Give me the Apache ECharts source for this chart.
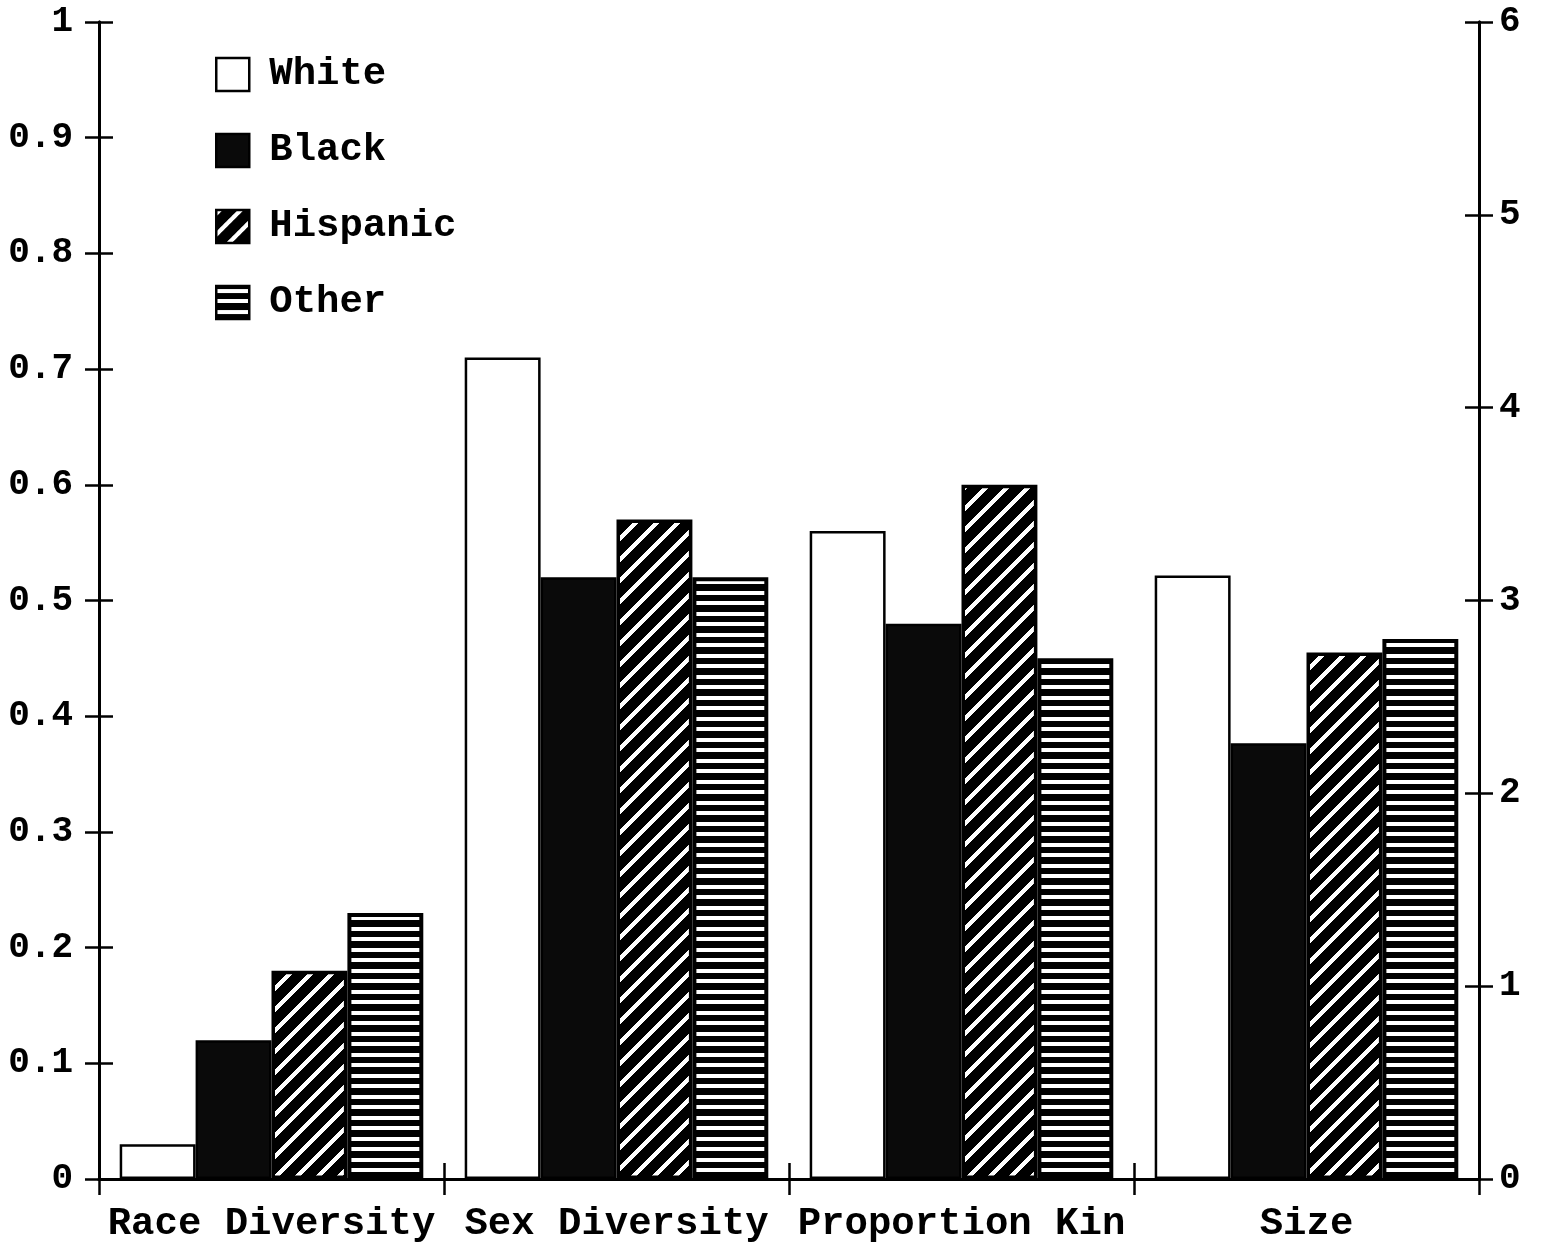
<!DOCTYPE html>
<html><head><meta charset="utf-8">
<script src="https://cdn.jsdelivr.net/npm/echarts@6/dist/echarts.min.js"></script>
<style>html,body{margin:0;padding:0;background:#fff}#c{width:1541px;height:1245px}</style>
</head><body><div id="c"></div>
<script>
const categories = ['Race Diversity', 'Sex Diversity', 'Proportion Kin', 'Size'];
const groups = ['White', 'Black', 'Hispanic', 'Other'];
// Left axis (0-1): Race Diversity, Sex Diversity, Proportion Kin
const whiteLeft = [0.03, 0.71, 0.56];
const blackLeft = [0.12, 0.52, 0.48];
const hispanicLeft = [0.18, 0.57, 0.60];
const otherLeft = [0.23, 0.52, 0.45];
// Right axis (0-6): Size
const whiteSize = 3.13;
const blackSize = 2.26;
const hispanicSize = 2.73;
const otherSize = 2.80;

const FONT = '"Liberation Mono", "DejaVu Sans Mono", monospace';

function diagPattern() {
  const s = 21, w = 6;
  const c = document.createElement('canvas');
  c.width = s; c.height = s;
  const ctx = c.getContext('2d');
  const img = ctx.createImageData(s, s);
  for (let y = 0; y < s; y++) {
    for (let x = 0; x < s; x++) {
      const white = ((x + y) % s) < w;
      const i = (y * s + x) * 4;
      const v = white ? 255 : 0;
      img.data[i] = v; img.data[i + 1] = v; img.data[i + 2] = v; img.data[i + 3] = 255;
    }
  }
  ctx.putImageData(img, 0, 0);
  return { image: c, repeat: 'repeat' };
}
function horizPattern() {
  const c = document.createElement('canvas');
  c.width = 8; c.height = 21;
  const ctx = c.getContext('2d');
  ctx.fillStyle = '#000'; ctx.fillRect(0, 0, 8, 21);
  ctx.fillStyle = '#fff';
  ctx.fillRect(0, 3, 8, 4);
  ctx.fillRect(0, 13, 8, 4);
  return { image: c, repeat: 'repeat' };
}

const fills = {
  White: '#ffffff',
  Black: '#0a0a0a',
  Hispanic: diagPattern(),
  Other: horizPattern()
};
const borders = { White: 2.5, Black: 2.5, Hispanic: 3.5, Other: 4 };
const leftData = { White: whiteLeft, Black: blackLeft, Hispanic: hispanicLeft, Other: otherLeft };
const sizeData = { White: whiteSize, Black: blackSize, Hispanic: hispanicSize, Other: otherSize };

const series = [];
groups.forEach(g => {
  series.push({
    name: g, type: 'bar', xAxisIndex: 0, yAxisIndex: 0,
    data: leftData[g].concat(['-']),
    barGap: '0%', barCategoryGap: '12%',
    itemStyle: { color: fills[g], borderColor: '#000', borderWidth: borders[g] },
    emphasis: { disabled: true }, animation: false
  });
});
groups.forEach(g => {
  series.push({
    name: g, type: 'bar', xAxisIndex: 1, yAxisIndex: 1,
    data: ['-', '-', '-', sizeData[g]],
    barGap: '0%', barCategoryGap: '12%',
    itemStyle: { color: fills[g], borderColor: '#000', borderWidth: borders[g] },
    emphasis: { disabled: true }, animation: false
  });
});

const axisLine = { show: true, lineStyle: { color: '#000', width: 3 } };
const tickStyle = { color: '#000', width: 2.5 };

const option = {
  backgroundColor: '#fff',
  animation: false,
  grid: { left: 99, right: 62, top: 22, bottom: 66, outerBoundsMode: 'none', containLabel: false },
  legend: {
    orient: 'vertical', left: 210, top: 50,
    data: groups, icon: 'rect',
    itemWidth: 33, itemHeight: 33, itemGap: 37,
    itemStyle: { borderColor: '#000', borderWidth: 2.5 },
    textStyle: { fontFamily: FONT, fontWeight: 'bold', fontSize: 39, color: '#000', padding: [0, 0, 0, 15] },
    selectedMode: false
  },
  xAxis: [
    {
      type: 'category', data: categories, position: 'bottom',
      axisLine: axisLine,
      axisTick: { show: true, inside: false, length: 16, lineStyle: tickStyle },
      axisLabel: { fontFamily: FONT, fontWeight: 'bold', fontSize: 39, color: '#000', margin: 26, interval: 0 },
      splitLine: { show: false }
    },
    {
      type: 'category', data: categories, position: 'bottom',
      axisLine: axisLine,
      axisTick: { show: true, inside: true, length: 16, lineStyle: tickStyle },
      axisLabel: { show: false },
      splitLine: { show: false }
    }
  ],
  yAxis: [
    {
      type: 'value', position: 'left', min: 0, max: 1, interval: 0.1,
      axisLine: axisLine,
      axisTick: { show: true, inside: false, length: 14, lineStyle: tickStyle },
      axisLabel: { fontFamily: FONT, fontWeight: 'bold', fontSize: 36, color: '#000', margin: 26 },
      splitLine: { show: false }
    },
    {
      type: 'value', position: 'right', min: 0, max: 6, interval: 1,
      axisLine: axisLine,
      axisTick: { show: true, inside: false, length: 14, lineStyle: tickStyle },
      axisLabel: { fontFamily: FONT, fontWeight: 'bold', fontSize: 36, color: '#000', margin: 20 },
      splitLine: { show: false }
    },
    {
      type: 'value', position: 'left', min: 0, max: 1, interval: 0.1,
      axisLine: axisLine,
      axisTick: { show: true, inside: true, length: 14, lineStyle: tickStyle },
      axisLabel: { show: false },
      splitLine: { show: false }
    },
    {
      type: 'value', position: 'right', min: 0, max: 6, interval: 1,
      axisLine: axisLine,
      axisTick: { show: true, inside: true, length: 14, lineStyle: tickStyle },
      axisLabel: { show: false },
      splitLine: { show: false }
    }
  ],
  series: series
};

const chart = echarts.init(document.getElementById('c'), null, { renderer: 'canvas' });
chart.setOption(option);
</script>
</body></html>
